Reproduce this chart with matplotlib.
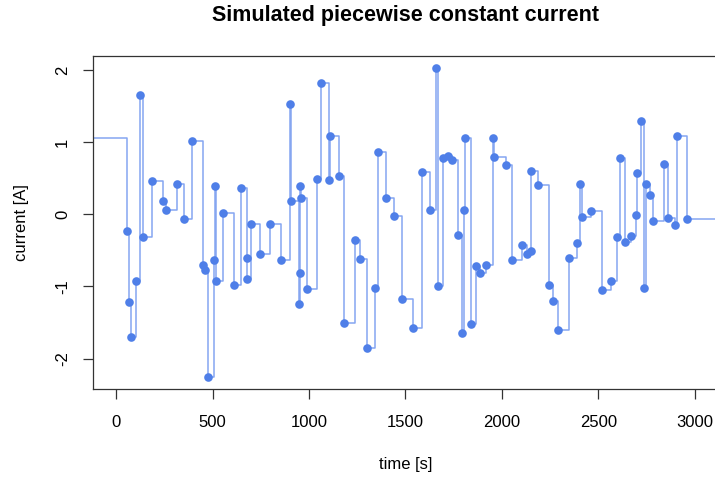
import numpy as np
import matplotlib
matplotlib.use("Agg")
import matplotlib.pyplot as plt

plt.rcParams['font.family'] = ['Liberation Sans', 'DejaVu Sans']

# switching times [s] and the current level that starts there [A]
start_level = 1.065
times = [58, 66, 75, 105, 122, 137, 185, 242, 260, 315,
         353, 394, 449, 463, 475, 506, 515, 519, 555, 613,
         646, 677, 681, 700, 748, 798, 855, 903, 905, 948,
         951, 956, 960, 991, 1040, 1060, 1103, 1108, 1156, 1184,
         1238, 1266, 1300, 1342, 1357, 1400, 1440, 1484, 1541, 1586,
         1628, 1657, 1668, 1697, 1723, 1743, 1773, 1793, 1802, 1808,
         1840, 1865, 1886, 1916, 1955, 1961, 2021, 2051, 2104, 2128,
         2150, 2153, 2187, 2243, 2266, 2290, 2346, 2390, 2403, 2416,
         2460, 2520, 2565, 2599, 2611, 2641, 2669, 2698, 2701, 2720,
         2738, 2746, 2767, 2782, 2843, 2860, 2896, 2910, 2961]
current = [-0.235, -1.21, -1.70, -0.93, 1.65, -0.32, 0.46, 0.18, 0.065, 0.42,
           -0.06, 1.02, -0.70, -0.77, -2.25, -0.63, 0.39, -0.92, 0.02, -0.98,
           0.37, -0.60, -0.89, -0.14, -0.55, -0.14, -0.63, 1.53, 0.18, -1.25,
           -0.82, 0.39, 0.22, -1.04, 0.49, 1.82, 0.48, 1.09, 0.53, -1.51,
           -0.35, -0.62, -1.86, -1.02, 0.86, 0.22, -0.03, -1.17, -1.57, 0.58,
           0.065, 2.03, -1.00, 0.78, 0.81, 0.75, -0.29, -1.645, 0.065, 1.065,
           -1.52, -0.72, -0.81, -0.70, 1.065, 0.79, 0.68, -0.64, -0.42, -0.55,
           -0.51, 0.60, 0.40, -0.98, -1.20, -1.61, -0.60, -0.40, 0.42, -0.04,
           0.04, -1.05, -0.93, -0.32, 0.775, -0.39, -0.30, -0.01, 0.575, 1.29,
           -1.02, 0.425, 0.27, -0.09, 0.70, -0.055, -0.15, 1.08, -0.065]

x_ticks = [0, 500, 1000, 1500, 2000, 2500, 3000]
y_ticks = [-2, -1, 0, 1, 2]

xmin, xmax = -120, 3120
lo, hi = min(current), max(current)
pad = 0.04 * (hi - lo)

fig = plt.figure(figsize=(7.15, 4.79), dpi=100)
ax = fig.add_axes([0.130, 0.188, 0.874, 0.696])

# step line extends to both edges of the plot region
tx = [xmin] + times + [xmax]
ty = [start_level] + current + [current[-1]]
ax.step(tx, ty, where='post', color='#5d88ec', lw=1.1, alpha=0.75)
ax.plot(times, current, 'o', color='#4f7fe8', markersize=6.2, markeredgewidth=0)

ax.set_xlim(xmin, xmax)
ax.set_ylim(lo - pad, hi + pad)
ax.set_xticks(x_ticks)
ax.set_yticks(y_ticks)
ax.set_yticklabels([str(v) for v in y_ticks], rotation=90, va='center')
ax.tick_params(direction='out', length=7.5, width=0.9, labelsize=12, color='#333333')
ax.tick_params(axis='x', pad=11)
ax.tick_params(axis='y', pad=9)
for s in ax.spines.values():
    s.set_color('#333333')
    s.set_linewidth(0.9)

ax.set_title("Simulated piecewise constant current", fontsize=15.5, fontweight='bold', pad=25)
ax.set_xlabel("time [s]", fontsize=12, labelpad=20)
ax.set_ylabel("current [A]", fontsize=12, labelpad=19)

fig.savefig("out.png", dpi=100)
